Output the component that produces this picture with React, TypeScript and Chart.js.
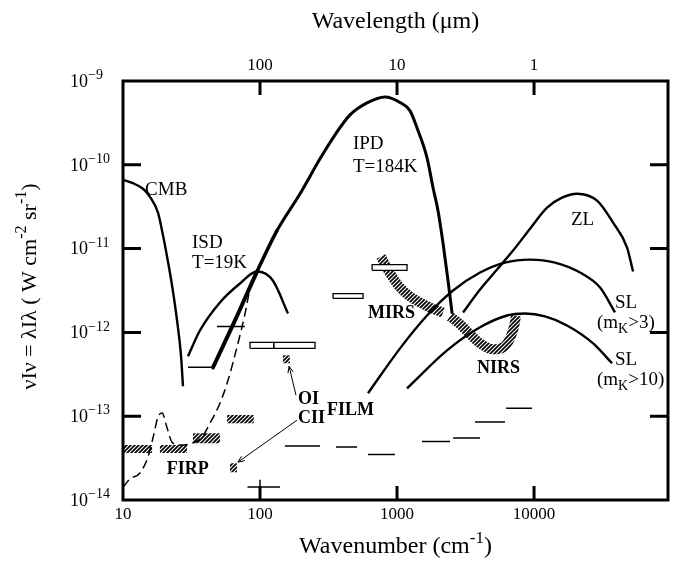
import React, { useEffect, useRef } from 'react';
import { Chart, registerables } from 'chart.js';

Chart.register(...registerables);

// ---------------- axes ----------------
const xMin = 10;
const xMax = 95000;
const yMin = 1e-14;
const yMax = 1e-9;
const xTickValues = [10, 100, 1000, 10000];
const xTickLabels = ['10', '100', '1000', '10000'];
const topTickWavelengths = [100, 10, 1]; // micrometres
const yTickExponents = [-9, -10, -11, -12, -13, -14];

// ---------------- curves (wavenumber cm^-1, nuI_nu W cm^-2 sr^-1) ----------------
const cmbNu = [10, 11.8, 14.0, 15.7, 18.0, 19.6, 20.9, 22.8, 24.8, 26.5, 27.4];
const cmbI = [6.62e-11, 6.03e-11, 5.18e-11, 4.16e-11, 2.68e-11, 1.43e-11, 8.26e-12, 3.63e-12, 1.39e-12, 5.32e-13, 2.28e-13];

const isdNu = [29.8, 36.5, 51.0, 71.4, 95, 124, 160];
const isdI = [5.18e-13, 1.06e-12, 2.28e-12, 3.83e-12, 5.32e-12, 4.16e-12, 1.68e-12];

const ipdNu = [45.4, 65.7, 95.1, 133, 196, 274, 353, 454, 604, 817, 1052, 1245, 1400, 1656, 1832, 1992, 2168, 2356, 2518];
const ipdI = [3.83e-13, 1.39e-12, 5.32e-12, 1.64e-11, 4.52e-11, 1.18e-10, 2.28e-10, 3.94e-10, 5.47e-10, 6.45e-10, 5.55e-10, 4.4e-10, 2.75e-10, 1.21e-10, 5.32e-11, 2.83e-11, 1.15e-11, 4.16e-12, 1.73e-12];

const zlNu = [3034, 4036, 5370, 7030, 9350, 12450, 16000, 20600, 28840, 37740, 47750, 52800];
const zlI = [1.73e-12, 3.25e-12, 5.62e-12, 9.46e-12, 1.73e-11, 3.08e-11, 4.05e-11, 4.52e-11, 3.73e-11, 2.04e-11, 1.03e-11, 5.32e-12];

const sl3Nu = [614, 1052, 1656, 2565, 4036, 6137, 9350, 14230, 21650, 30340, 39000];
const sl3I = [1.88e-13, 6.45e-13, 1.59e-12, 3.16e-12, 5.18e-12, 6.81e-12, 7.39e-12, 6.81e-12, 5.18e-12, 3.43e-12, 1.73e-12];

const sl10Nu = [1183, 2318, 4036, 6350, 8590, 12030, 17400, 27000, 37100];
const sl10I = [2.15e-13, 6.1e-13, 1.15e-12, 1.59e-12, 1.68e-12, 1.55e-12, 1.21e-12, 7.4e-13, 4.28e-13];

const firpDashNu = [10, 11.25, 13.3, 15.2, 16.6, 18.0, 19.3, 20.9, 22.8, 26.1, 31.9, 37.7, 43.2, 51.0, 58.4, 69.0, 77.8, 83.2];
const firpDashI = [1.43e-14, 1.78e-14, 2.1e-14, 3.25e-14, 5.62e-14, 9.73e-14, 1.09e-13, 7.4e-14, 4.9e-14, 4.52e-14, 4.77e-14, 5.62e-14, 8.26e-14, 1.43e-13, 2.68e-13, 7.4e-13, 1.68e-12, 2.99e-12];

// hatched sensitivity bands
const mirsNu = [764, 817, 920, 1052, 1245, 1472, 1800, 2168];
const mirsI = [8.03e-12, 6.45e-12, 4.65e-12, 3.43e-12, 2.68e-12, 2.28e-12, 1.93e-12, 1.73e-12];
const nirsNu = [2438, 2884, 3245, 4036, 5020, 5940, 6680, 7150, 7390];
const nirsI = [1.55e-12, 1.25e-12, 1.03e-12, 7.4e-13, 6.28e-13, 6.62e-13, 8.49e-13, 1.18e-12, 1.59e-12];

// hatched boxes (FIRP, CII, OI)
const hatchNuLo = [10, 18.6, 32.4, 57.5, 60.4, 147];
const hatchNuHi = [16.3, 29.3, 51, 90, 67.8, 165];
const hatchILo = [3.63e-14, 3.63e-14, 4.77e-14, 8.26e-14, 2.15e-14, 4.28e-13];
const hatchIHi = [4.52e-14, 4.52e-14, 6.28e-14, 1.03e-13, 2.75e-14, 5.32e-13];

// open boxes
const boxNuLo = [84.5, 126, 341, 658];
const boxNuHi = [126, 252, 565, 1183];
const boxILo = [6.45e-13, 6.45e-13, 2.54e-12, 5.5e-12];
const boxIHi = [7.6e-13, 7.6e-13, 2.9e-12, 6.45e-12];

// horizontal limit segments
const segNuLo = [29.8, 48.5, 81, 152, 359, 614, 1521, 2565, 3707, 6250];
const segNuHi = [44.5, 77.5, 140, 274, 511, 966, 2437, 4036, 6137, 9660];
const segI = [3.83e-13, 1.18e-12, 1.43e-14, 4.4e-14, 4.3e-14, 3.5e-14, 5.0e-14, 5.5e-14, 8.5e-14, 1.24e-13];
const barNu = [100, 100];
const barI = [1e-14, 1.74e-14];

// pointer lines (tail -> tip)
const oiArrowNu = [183, 163];
const oiArrowI = [1.78e-13, 3.94e-13];
const ciiArrowNu = [186, 69];
const ciiArrowI = [8.95e-14, 2.83e-14];

// ---------------- labels ----------------
type Part = { t: string; s?: 'sup' | 'sub' };
const labelTexts: Part[][] = [
  [{ t: 'CMB' }],
  [{ t: 'ISD' }],
  [{ t: 'T=19K' }],
  [{ t: 'IPD' }],
  [{ t: 'T=184K' }],
  [{ t: 'ZL' }],
  [{ t: 'SL' }],
  [{ t: '(m' }, { t: 'K', s: 'sub' }, { t: '>3)' }],
  [{ t: 'SL' }],
  [{ t: '(m' }, { t: 'K', s: 'sub' }, { t: '>10)' }],
  [{ t: 'MIRS' }],
  [{ t: 'NIRS' }],
  [{ t: 'FILM' }],
  [{ t: 'FIRP' }],
  [{ t: 'OI' }],
  [{ t: 'CII' }],
];
const labelNu = [14.5, 31.9, 31.9, 477, 477, 18600, 39000, 28800, 39000, 28800, 614, 3840, 308, 20.9, 189, 189];
const labelI = [5.03e-11, 1.18e-11, 6.8e-12, 1.78e-10, 9.46e-11, 2.21e-11, 2.27e-12, 1.28e-12, 4.64e-13, 2.68e-13, 1.68e-12, 3.73e-13, 1.18e-13, 2.34e-14, 1.59e-13, 9.46e-14];
const labelBold = [false, false, false, false, false, false, false, false, false, false, true, true, true, true, true, true];

const SERIF = '"Liberation Serif", "Times New Roman", "DejaVu Serif", serif';

function pts(nu: number[], I: number[]) {
  return nu.map((x, i) => ({ x, y: I[i] }));
}
function box(x1: number, x2: number, y1: number, y2: number) {
  return [
    { x: x1, y: y1 },
    { x: x2, y: y1 },
    { x: x2, y: y2 },
    { x: x1, y: y2 },
    { x: x1, y: y1 },
  ];
}
function segments(lo: number[], hi: number[], v: number[]) {
  const out: any[] = [];
  lo.forEach((a, i) => {
    out.push({ x: a, y: v[i] }, { x: hi[i], y: v[i] }, { x: hi[i], y: null });
  });
  return out;
}

function drawRich(ctx: CanvasRenderingContext2D, parts: Part[], x: number, y: number, size: number, weight: string, align: 'left' | 'center', ratio = 0.72) {
  const small = Math.round(size * ratio);
  const font = (sz: number) => `${weight} ${sz}px ${SERIF}`;
  let w = 0;
  for (const p of parts) {
    ctx.font = font(p.s ? small : size);
    w += ctx.measureText(p.t).width;
  }
  let cx = align === 'center' ? x - w / 2 : x;
  ctx.textAlign = 'left';
  ctx.textBaseline = 'middle';
  for (const p of parts) {
    ctx.font = font(p.s ? small : size);
    const dy = p.s === 'sup' ? -size * 0.36 : p.s === 'sub' ? size * 0.3 : 0;
    ctx.fillText(p.t, cx, y + dy);
    cx += ctx.measureText(p.t).width;
  }
}

const decor = {
  id: 'decor',
  afterDraw(chart: any) {
    const { ctx, chartArea: a, scales } = chart;
    const xs = scales.x;
    const ys = scales.y;
    ctx.save();
    ctx.fillStyle = '#000';
    ctx.strokeStyle = '#000';
    // arrow heads on pointer lines
    chart.data.datasets.forEach((ds: any) => {
      if (!ds.arrow) return;
      const d = ds.data;
      const p0x = xs.getPixelForValue(d[0].x), p0y = ys.getPixelForValue(d[0].y);
      const p1x = xs.getPixelForValue(d[1].x), p1y = ys.getPixelForValue(d[1].y);
      const ang = Math.atan2(p1y - p0y, p1x - p0x);
      const L = 7;
      ctx.lineWidth = 1;
      ctx.beginPath();
      ctx.moveTo(p1x - L * Math.cos(ang - 0.4), p1y - L * Math.sin(ang - 0.4));
      ctx.lineTo(p1x, p1y);
      ctx.lineTo(p1x - L * Math.cos(ang + 0.4), p1y - L * Math.sin(ang + 0.4));
      ctx.stroke();
    });
    // frame
    ctx.lineWidth = 3;
    ctx.strokeRect(a.left, a.top, a.right - a.left, a.bottom - a.top);
    // inward ticks
    ctx.beginPath();
    xTickValues.forEach((v) => {
      const px = xs.getPixelForValue(v);
      if (px <= a.left + 2) return;
      ctx.moveTo(px, a.bottom);
      ctx.lineTo(px, a.bottom - 14);
    });
    topTickWavelengths.forEach((lam) => {
      const px = xs.getPixelForValue(1e4 / lam);
      ctx.moveTo(px, a.top);
      ctx.lineTo(px, a.top + 14);
    });
    yTickExponents.forEach((e) => {
      const py = ys.getPixelForValue(Math.pow(10, e));
      if (py <= a.top + 2 || py >= a.bottom - 2) return;
      ctx.moveTo(a.left, py);
      ctx.lineTo(a.left + 18, py);
      ctx.moveTo(a.right, py);
      ctx.lineTo(a.right - 18, py);
    });
    ctx.stroke();
    // tick labels
    xTickValues.forEach((v, i) => {
      drawRich(ctx, [{ t: xTickLabels[i] }], xs.getPixelForValue(v), a.bottom + 15, 17, 'normal', 'center');
    });
    topTickWavelengths.forEach((lam) => {
      drawRich(ctx, [{ t: String(lam) }], xs.getPixelForValue(1e4 / lam), a.top - 15, 17, 'normal', 'center');
    });
    yTickExponents.forEach((e) => {
      const py = ys.getPixelForValue(Math.pow(10, e));
      drawRich(ctx, [{ t: '10' }, { t: '\u2212' + Math.abs(e), s: 'sup' }], 70, py + 1, 18, 'normal', 'left', 0.78);
    });
    // axis titles
    drawRich(ctx, [{ t: 'Wavelength (\u03bcm)' }], (a.left + a.right) / 2, 22, 24, 'normal', 'center');
    drawRich(ctx, [{ t: 'Wavenumber (cm' }, { t: '-1', s: 'sup' }, { t: ')' }], (a.left + a.right) / 2, 547, 24, 'normal', 'center');
    ctx.save();
    ctx.translate(30, (a.top + a.bottom) / 2 - 4);
    ctx.rotate(-Math.PI / 2);
    drawRich(ctx, [{ t: '\u03bdI\u03bd = \u03bbI\u03bb ( W cm' }, { t: '-2', s: 'sup' }, { t: ' sr' }, { t: '-1', s: 'sup' }, { t: ')' }], 0, 0, 22, 'normal', 'center');
    ctx.restore();
    // in-plot labels
    labelTexts.forEach((parts, i) => {
      const px = xs.getPixelForValue(labelNu[i]);
      const py = ys.getPixelForValue(labelI[i]);
      drawRich(ctx, parts, px, py, labelBold[i] ? 18 : 19, labelBold[i] ? 'bold' : 'normal', 'left');
    });
    ctx.restore();
  },
};

function makeHatch(): CanvasPattern | string {
  const c = document.createElement('canvas');
  c.width = 4;
  c.height = 4;
  const g = c.getContext('2d');
  if (!g) return '#000';
  g.strokeStyle = '#000';
  g.lineWidth = 1.7;
  g.beginPath();
  g.moveTo(0, 4);
  g.lineTo(4, 0);
  g.moveTo(-1, 1);
  g.lineTo(1, -1);
  g.moveTo(3, 5);
  g.lineTo(5, 3);
  g.stroke();
  return g.createPattern(c, 'repeat') || '#000';
}

export default function App() {
  const ref = useRef<HTMLCanvasElement>(null);
  useEffect(() => {
    document.body.style.margin = '0';
    const hatch = makeHatch();
    const line = (data: any[], extra: any = {}) => ({
      data,
      showLine: true,
      pointRadius: 0,
      borderColor: '#000',
      borderWidth: 2.4,
      fill: false,
      cubicInterpolationMode: 'monotone',
      borderJoinStyle: 'round',
      ...extra,
    });
    const datasets: any[] = [];
    hatchNuLo.forEach((lo, i) => {
      datasets.push(line(box(lo, hatchNuHi[i], hatchILo[i], hatchIHi[i]), { borderColor: 'rgba(0,0,0,0)', borderWidth: 0, backgroundColor: hatch, fill: 'shape', cubicInterpolationMode: 'default', tension: 0 }));
    });
    boxNuLo.forEach((lo, i) => {
      datasets.push(line(box(lo, boxNuHi[i], boxILo[i], boxIHi[i]), { borderWidth: 1.3, backgroundColor: '#fff', fill: 'shape', cubicInterpolationMode: 'default', tension: 0, borderJoinStyle: 'miter' }));
    });
    datasets.push(line(pts(mirsNu, mirsI), { borderColor: hatch, borderWidth: 10, borderCapStyle: 'butt' }));
    datasets.push(line(pts(nirsNu, nirsI), { borderColor: hatch, borderWidth: 10, borderCapStyle: 'butt' }));
    datasets.push(line(pts(cmbNu, cmbI)));
    datasets.push(line(pts(isdNu, isdI)));
    datasets.push(line(pts(ipdNu, ipdI), {
      borderWidth: 3,
      borderCapStyle: 'round',
      segment: { borderWidth: (c: any) => (c.p0DataIndex < 2 ? 4 : c.p0DataIndex < 3 ? 3.5 : 3) },
    }));
    datasets.push(line(pts(zlNu, zlI)));
    datasets.push(line(pts(sl3Nu, sl3I)));
    datasets.push(line(pts(sl10Nu, sl10I)));
    datasets.push(line(pts(firpDashNu, firpDashI), { borderWidth: 1.5, borderDash: [9, 5] }));
    datasets.push(line(segments(segNuLo, segNuHi, segI), { borderWidth: 1.5, cubicInterpolationMode: 'default', tension: 0, spanGaps: false }));
    datasets.push(line(pts(barNu, barI), { borderWidth: 1.5, tension: 0, cubicInterpolationMode: 'default' }));
    datasets.push(line(pts(oiArrowNu, oiArrowI), { borderWidth: 1, tension: 0, cubicInterpolationMode: 'default', arrow: true }));
    datasets.push(line(pts(ciiArrowNu, ciiArrowI), { borderWidth: 1, tension: 0, cubicInterpolationMode: 'default', arrow: true }));

    const chart = new Chart(ref.current as HTMLCanvasElement, {
      type: 'scatter',
      data: { datasets },
      options: {
        animation: false,
        responsive: false,
        devicePixelRatio: 1,
        layout: { padding: { left: 123, right: 10, top: 81, bottom: 65 } },
        plugins: { legend: { display: false }, tooltip: { enabled: false } },
        events: [],
        scales: {
          x: { type: 'logarithmic', min: xMin, max: xMax, display: false },
          y: { type: 'logarithmic', min: yMin, max: yMax, display: false },
        },
      } as any,
      plugins: [decor],
    });
    return () => chart.destroy();
  }, []);
  return (
    <div style={{ width: 678, height: 565, background: '#fff' }}>
      <canvas ref={ref} width={678} height={565} style={{ display: 'block' }} />
    </div>
  );
}
